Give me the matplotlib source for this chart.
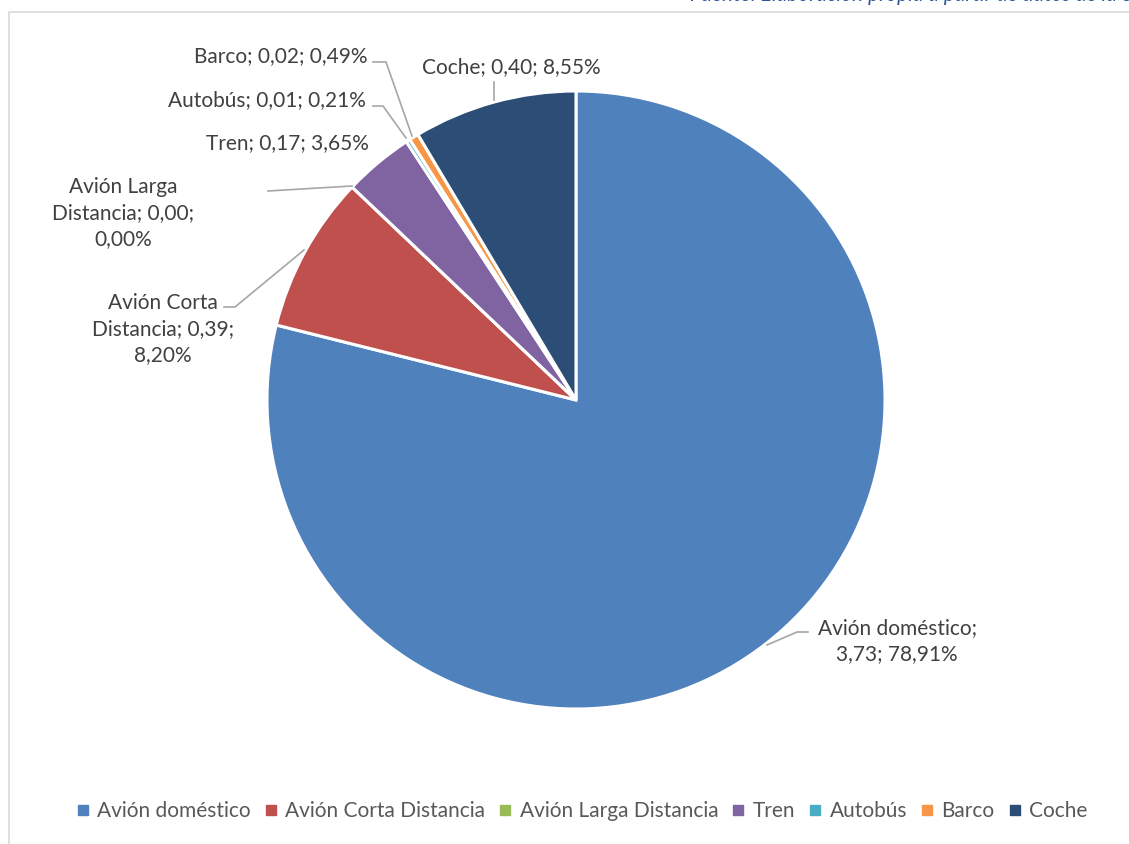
import matplotlib.pyplot as plt
from matplotlib.lines import Line2D

# data
categorias = ['Avión doméstico', 'Avión Corta Distancia', 'Avión Larga Distancia',
              'Tren', 'Autobús', 'Barco', 'Coche']
valores = [3.73, 0.39, 0.00, 0.17, 0.01, 0.02, 0.40]
porcentajes = [78.91, 8.20, 0.00, 3.65, 0.21, 0.49, 8.55]
colores = ['#4F81BD', '#C0504D', '#9BBB59', '#8064A2', '#4BACC6', '#F79646', '#2C4D75']

W, H = 1129, 844
FONT = 'Lato'
FS = 15
TXT = '#404040'
LINE = '#A6A6A6'


def py(y):
    # pixel row (from top) -> data y
    return H - y


def num(v):
    return f'{v:.2f}'.replace('.', ',')


def etiqueta(i):
    return f'{categorias[i]}; {num(valores[i])}; {num(porcentajes[i])}%'


fig = plt.figure(figsize=(W / 100, H / 100), dpi=100)
ax = fig.add_axes([0, 0, 1, 1])

# chart frame (right/bottom edges fall outside the picture)
ax.plot([9, 9, W + 5], [py(H + 5), py(12), py(12)], color='#D9D9D9', lw=1.2)

ax.pie(porcentajes, colors=colores, startangle=90, counterclock=False,
       center=(576, py(400)), radius=309, frame=True,
       wedgeprops=dict(edgecolor='white', linewidth=2.2))
ax.set_xlim(0, W)
ax.set_ylim(0, H)
ax.set_aspect('equal')
ax.axis('off')


def txt(x, y, s, ha='center'):
    ax.text(x, py(y), s, ha=ha, va='center', fontsize=FS, color=TXT,
            family=FONT, linespacing=1.35)


txt(897, 641, 'Avión doméstico;\n' + etiqueta(0).split('; ', 1)[1])
parts = etiqueta(1).split('; ')
txt(163, 329, 'Avión Corta\nDistancia; ' + parts[1] + ';\n' + parts[2])
parts = etiqueta(2).split('; ')
txt(123, 213, 'Avión Larga\nDistancia; ' + parts[1] + ';\n' + parts[2])
txt(369, 143, etiqueta(3), ha='right')
txt(366, 100, etiqueta(4), ha='right')
txt(367, 56, etiqueta(5), ha='right')
txt(511, 67, etiqueta(6))

# leader lines (pixel coords)
guias = [
    [(767, 645), (797, 632), (808, 632)],
    [(224, 307), (235, 307), (304, 250)],
    [(268, 191), (352, 186)],
    [(373, 106), (383, 106), (406, 138)],
    [(373, 62), (386, 62), (412, 136)],
    [(494, 82), (494, 100)],
]
for g in guias:
    ax.plot([p[0] for p in g], [py(p[1]) for p in g], color=LINE, lw=1.2)

# source note, cut off at the top edge as in the original
ax.text(690, py(1), 'Fuente: Elaboración propia a partir de datos de la encuesta',
        ha='left', va='baseline', fontsize=FS, color='#2E5597', style='italic',
        family=FONT)

handles = [Line2D([], [], marker='s', ls='', color=c, markersize=6.5) for c in colores]
leg = fig.legend(handles, categorias, loc='center', bbox_to_anchor=(581 / W, 1 - 811 / H),
                 ncol=7, frameon=False, handletextpad=0.3, columnspacing=0.55,
                 handlelength=0.8, prop={'family': FONT, 'size': FS})
for t in leg.get_texts():
    t.set_color('#595959')

fig.savefig('out.png', dpi=100)
